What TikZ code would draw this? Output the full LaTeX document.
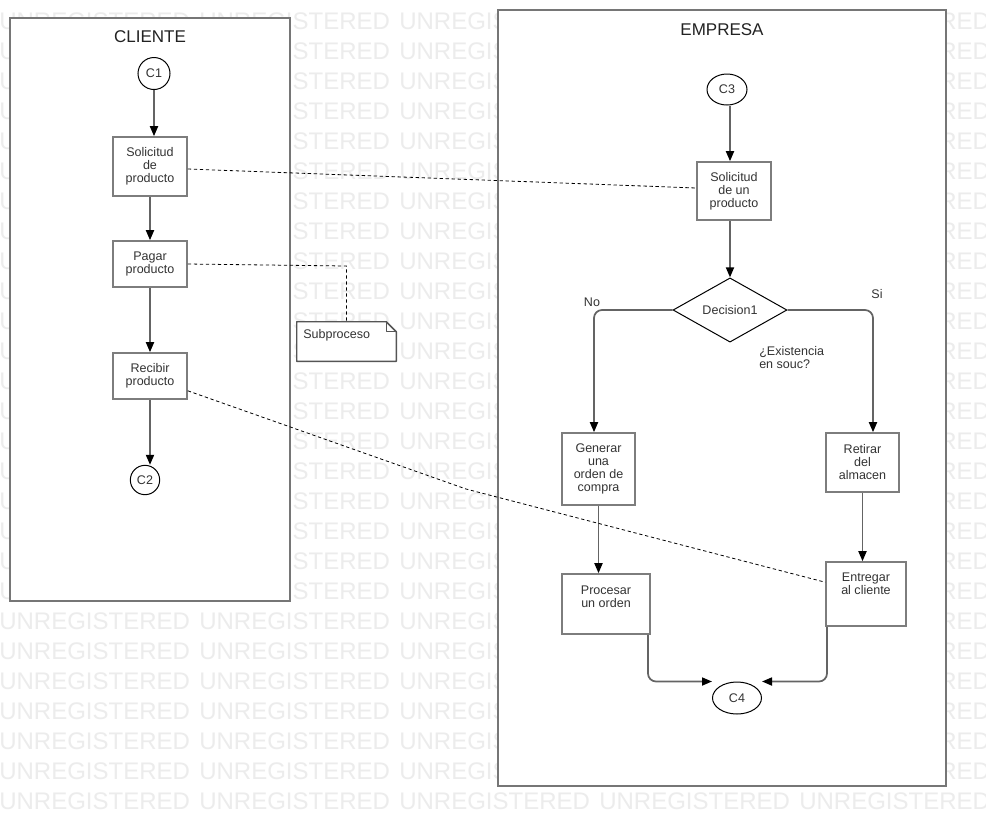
\documentclass[tikz,border=0pt]{standalone}
\usepackage{fontspec}
\setmainfont{Liberation Sans}
\usetikzlibrary{arrows.meta,shapes.geometric,fit,calc}
\definecolor{wmgray}{RGB}{236,236,236}
\definecolor{lanegray}{RGB}{118,118,118}
\definecolor{boxgray}{RGB}{125,125,125}
\definecolor{flowgray}{RGB}{100,100,100}
\definecolor{txtgray}{RGB}{51,51,51}
\definecolor{titlegray}{RGB}{34,34,34}
\definecolor{notegray}{RGB}{85,85,85}
\begin{document}
\begin{tikzpicture}[x=0.75pt,y=-0.75pt,
  every node/.style={font=\fontsize{9.4pt}{9.75pt}\selectfont,text=txtgray},
  wmtext/.style={font=\fontsize{18pt}{18pt}\selectfont,text=wmgray,anchor=base west,inner sep=0pt},
  lane/.style={draw=lanegray,fill=white,line width=1.5pt,inner sep=0pt},
  lanetitle/.style={font=\fontsize{12.75pt}{13pt}\selectfont,text=titlegray},
  procbox/.style={rectangle,draw=boxgray,fill=white,line width=1.2pt,inner sep=0pt,align=center},
  connector/.style={draw=black,fill=white,line width=0.75pt,inner sep=0pt},
  decision/.style={diamond,draw=black,fill=white,line width=0.75pt,inner sep=0pt,minimum width=85.5pt,minimum height=42pt},
  flow/.style={draw=flowgray,line width=1.3pt,-{Triangle[black,length=7.5pt,width=6pt]}},
  assoc/.style={draw=black,line width=0.6pt,dash pattern=on 2.5pt off 2pt},
  boxtext/.style={align=center,inner sep=0pt}
]
\useasboundingbox (0,0) rectangle (986,826);
\clip (0,0) rectangle (986,826);
\fill[white] (0,0) rectangle (986,826);
% watermark
\foreach \r in {0,...,26}{
  \foreach \c in {0,...,4}{
    \node[wmtext] (wm-\r-\c) at (\c*200-1, 29+\r*30) {UNREGISTERED};
  }
}
% lanes
\node[lane,fit={(10,18)(290,601)}] (cliente) {};
\node[lanetitle] (clienteT) at (150,37) {CLIENTE};
\node[lane,fit={(498,10)(946,786)}] (empresa) {};
\node[lanetitle] (empresaT) at (722,30) {EMPRESA};
% CLIENTE
\node[connector,circle,minimum size=24pt] (c1) at (154,73.5) {C1};
\node[procbox,minimum width=55.5pt,minimum height=44.25pt] (sol1) at (150,166.5) {Solicitud\\de\\producto};
\node[procbox,minimum width=55.5pt,minimum height=34.5pt] (pag) at (150,264) {Pagar\\producto};
\node[procbox,minimum width=55.5pt,minimum height=34.5pt] (rec) at (150,376) {Recibir\\producto};
\node[connector,circle,minimum size=22pt] (c2) at (145,480) {C2};
% note
\node[inner sep=0pt,fit={(297,322)(396,361)}] (note) {};
\filldraw[fill=white,draw=notegray,line width=1.1pt,line join=round]
  (note.north west) -- ($(note.north east)+(-10,0)$) -- ($(note.north east)+(0,10)$)
  -- (note.south east) -- (note.south west) -- cycle;
\draw[notegray,line width=1.1pt,line join=round]
  ($(note.north east)+(-10,0)$) -- ($(note.north east)+(-10,10)$) -- ($(note.north east)+(0,10)$);
\node[anchor=west,inner sep=0pt] (noteT) at (303,335) {Subproceso};
% EMPRESA
\node[connector,ellipse,minimum width=30pt,minimum height=23.25pt] (c3) at (727,89.5) {C3};
\node[procbox,minimum width=55.5pt,minimum height=43.5pt] (sol2) at (734,191) {Solicitud\\de un\\producto};
\node[decision] (dec) at (730,310) {Decision1};
\node[procbox,minimum width=54.75pt,minimum height=54pt] (gen) at (598.5,469) {Generar\\una\\orden de\\compra};
\node[procbox,minimum width=54.75pt,minimum height=44.25pt] (ret) at (862.5,462.5) {Retirar\\del\\almacen};
\node[procbox,fit={(562,574)(650,634)}] (proc) {};
\node[boxtext] (procT) at (606,597) {Procesar\\un orden};
\node[procbox,fit={(826,562)(906,626)}] (ent) {};
\node[boxtext] (entT) at (866,584) {Entregar\\al cliente};
\node[connector,ellipse,minimum width=36.75pt,minimum height=24pt] (c4) at (737,698) {C4};
% labels
\node (noL) at (592,302) {No};
\node (siL) at (877,294) {Si};
\node[align=left,anchor=west,inner sep=0pt] (exL) at (759,357.5) {¿Existencia\\en souc?};
% flows
\coordinate (axE) at (730,0);
\coordinate (noX) at (594,0);
\coordinate (siX) at (873,0);
\coordinate (pX) at (648,0);
\coordinate (eX) at (827,0);
\draw[flow] (c1.south) -- (c1.south |- sol1.north);
\draw[flow] (sol1.south) -- (pag.north);
\draw[flow] (pag.south) -- (rec.north);
\draw[flow] (rec.south) -- (rec.south |- c2.north);
\draw[flow] (c3.south -| axE) -- (sol2.north -| axE);
\draw[flow] (sol2.south -| axE) -- (dec.north);
\draw[flow,rounded corners=6pt] (dec.west) -- (dec.west -| noX) -- (noX |- gen.north);
\draw[flow,rounded corners=6pt] (dec.east) -- (dec.east -| siX) -- (siX |- ret.north);
\draw[flow] (gen.south) -- (gen.south |- proc.north);
\draw[flow] (ret.south) -- (ret.south |- ent.north);
\draw[flow,rounded corners=6pt] (pX |- proc.south) -- (pX |- c4.north) -- (c4.west |- c4.north);
\draw[flow,rounded corners=6pt] (eX |- ent.south) -- (eX |- c4.north) -- (c4.east |- c4.north);
% associations
\coordinate (pagBend) at (346.5,266);
\coordinate (recBend) at (466,489);
\draw[assoc] ($(sol1.east)+(0,2.5)$) -- ($(sol2.west)+(0,-3)$);
\draw[assoc] (pag.east) -- (pagBend) -- (note.north);
\draw[assoc] ($(rec.south east)+(0,-9)$) -- (recBend) -- ($(ent.north west)+(0,21)$);
\end{tikzpicture}
\end{document}
